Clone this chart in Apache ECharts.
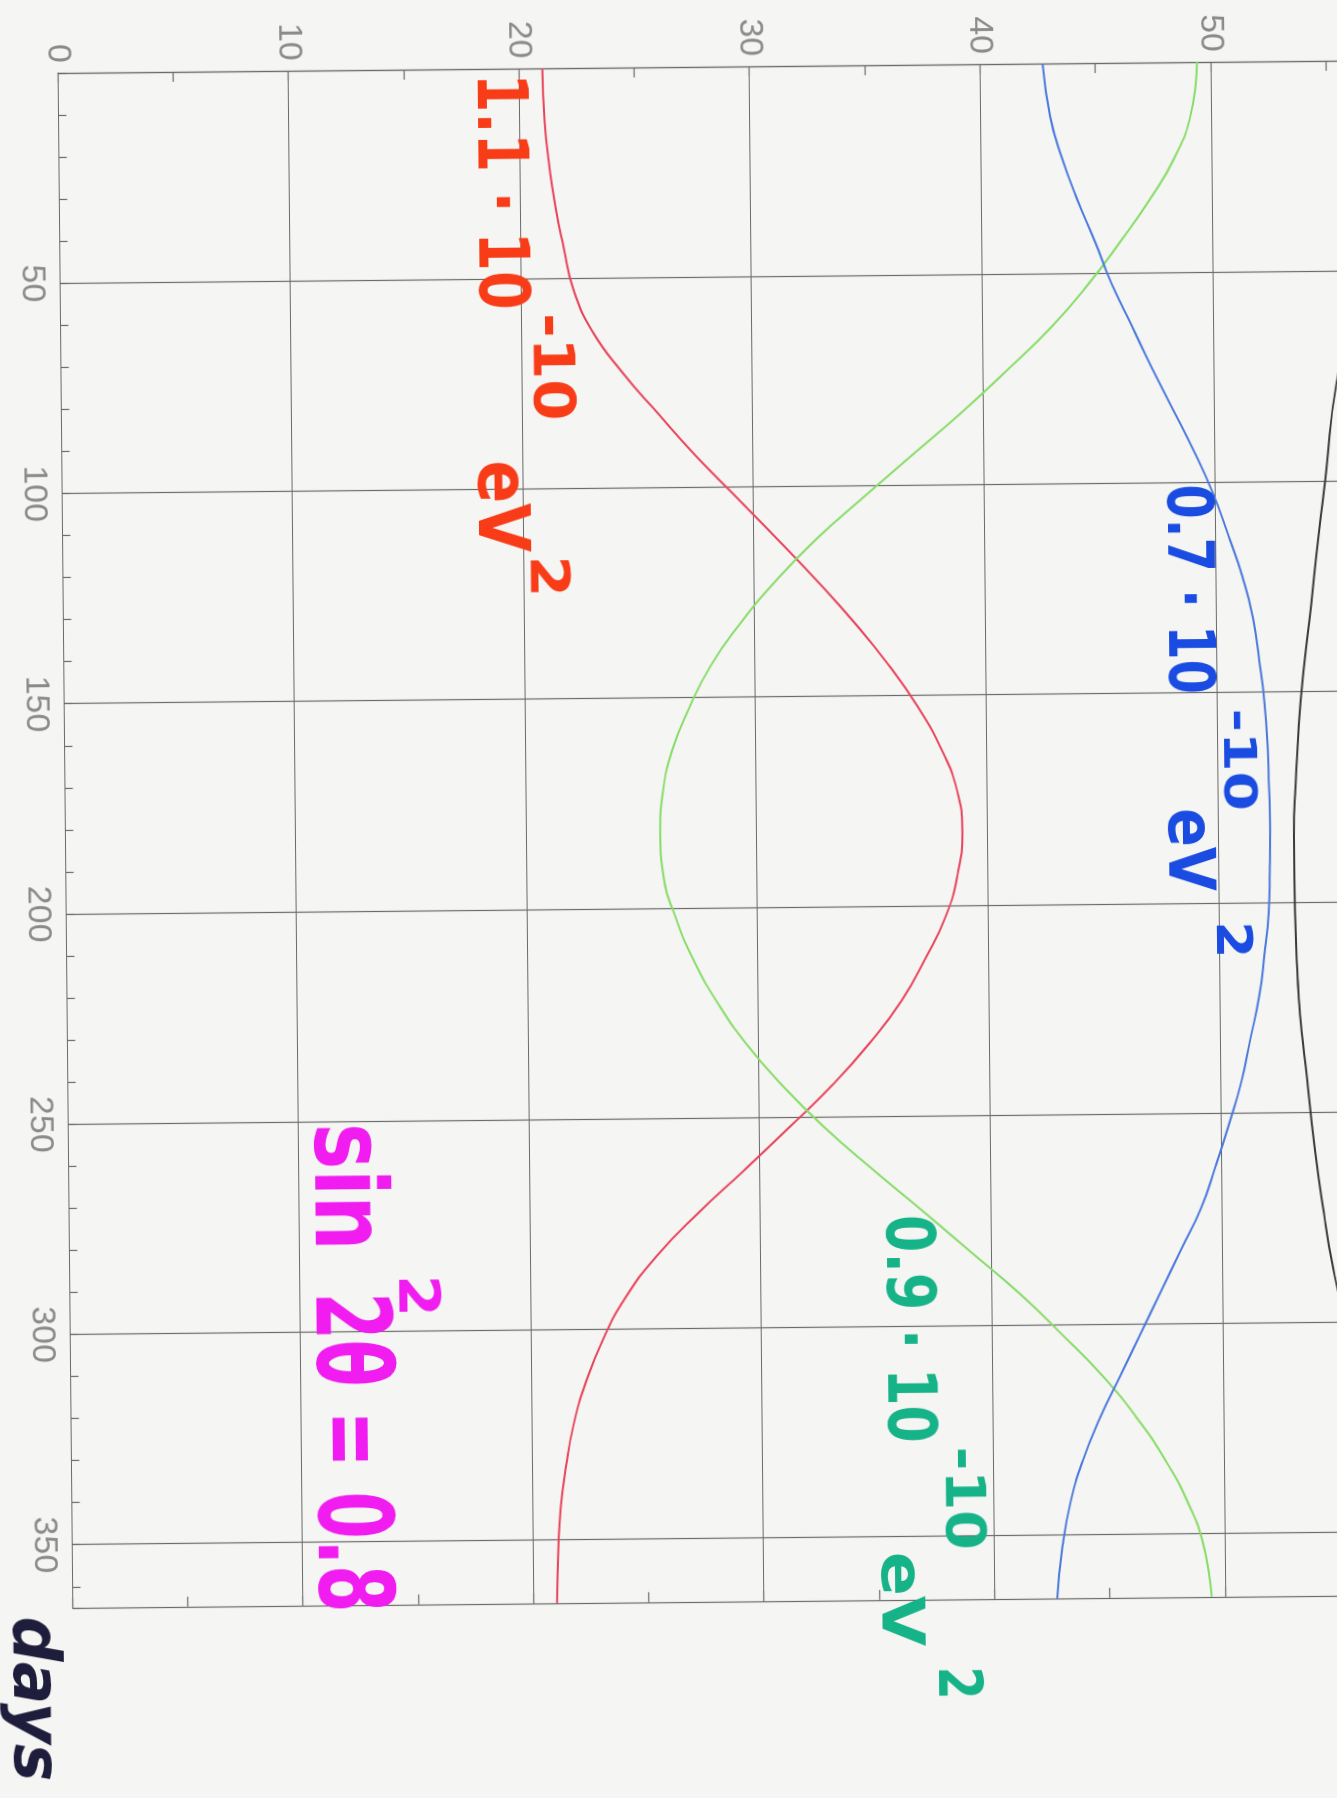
<!DOCTYPE html>
<html>
<head>
<meta charset="utf-8">
<script src="https://cdn.jsdelivr.net/npm/echarts@6/dist/echarts.min.js"></script>
<style>
  html, body { margin: 0; padding: 0; width: 1337px; height: 1798px; overflow: hidden; background: #f5f5f3; }
  /* the sheet is plotted in landscape and turned a quarter turn clockwise */
  #chart {
    position: absolute; left: 0; top: 0;
    width: 1900px; height: 1564px;
    transform-origin: 0 0;
    transform: translate(1500.38px, -60.85px) rotate(89.45deg);
  }
</style>
</head>
<body>
<div id="chart"></div>
<script>
// ---- data -------------------------------------------------------------
// day of the year (sampled symmetrically about mid-year)
const days = [0, 12.5, 22.5, 32.5, 42.5, 52.5, 62.5, 72.5, 82.5, 92.5, 102.5, 112.5, 122.5, 132.5, 142.5, 152.5, 162.5, 172.5,
              182.5, 192.5, 202.5, 212.5, 222.5, 232.5, 242.5, 252.5, 262.5, 272.5, 282.5, 292.5, 302.5, 312.5, 322.5, 332.5,
              342.5, 352.5, 365];
// dm2 = 1.1e-10 eV^2
const dm11 = [21.0, 21.08, 21.25, 21.5, 21.85, 22.25, 23.05, 24.35, 25.9, 27.5, 29.25, 31.0, 32.7, 34.3, 35.75, 37.0, 38.0, 38.68,
              38.9, 38.68, 38.15, 37.25, 36.2, 34.8, 33.15, 31.25, 29.3, 27.3, 25.5, 24.1, 23.1, 22.35, 21.8, 21.45,
              21.2, 21.08, 21.0];
// dm2 = 0.9e-10 eV^2
const dm09 = [49.4, 49.1, 48.4, 47.3, 46.0, 44.6, 43.0, 41.1, 39.1, 36.95, 34.8, 32.7, 30.9, 29.35, 28.05, 27.1, 26.35, 25.93,
              25.8, 25.93, 26.45, 27.2, 28.2, 29.45, 31.0, 32.8, 34.85, 37.0, 39.1, 41.2, 43.05, 44.8, 46.25, 47.45,
              48.4, 49.05, 49.4];
// dm2 = 0.7e-10 eV^2
const dm07 = [42.7, 43.0, 43.5, 44.15, 44.9, 45.6, 46.45, 47.3, 48.2, 49.1, 49.9, 50.55, 51.15, 51.6, 51.85, 52.05, 52.17, 52.22,
              52.25, 52.22, 52.15, 51.95, 51.7, 51.3, 50.9, 50.35, 49.75, 49.1, 48.2, 47.3, 46.4, 45.5, 44.6, 43.85,
              43.3, 42.95, 42.7];
// reference curve near the top of the scale
const refDays = [60, 77, 97, 126, 163, 194, 209, 247, 277, 290, 305];
const refVals = [56.1, 55.3, 54.84, 54.19, 53.47, 53.28, 53.32, 53.83, 54.49, 54.9, 55.5];

// axis ranges and tick steps
const dayRange = [0, 365];
const dayLabelStep = 50;
const dayTickStep = 10;
const valueRange = [0, 60];
const valueLabelStep = 10;
const valueTickStep = 5;

// ---- chart ------------------------------------------------------------
const chart = echarts.init(document.getElementById('chart'), null, { renderer: 'canvas' });

const pairs = (xs, ys) => xs.map((x, i) => [x, ys[i]]);
const labelFont = { fontFamily: 'Liberation Sans', fontSize: 34, color: '#8a8a8a' };
const ink = '#6a6a6a';
const clear = 'rgba(0,0,0,0)';
const frameLine = { color: ink, width: 1.2 };

// grid lines only on every labelled tick: colours cycle per tick
const cycle = n => [ink].concat(Array(n - 1).fill(clear));

function curve(name, xs, ys, color) {
  return {
    name, type: 'line', xAxisIndex: 0, yAxisIndex: 0,
    data: pairs(xs, ys), smooth: true, showSymbol: false, silent: true,
    lineStyle: { color, width: 2 }, emphasis: { disabled: true }, z: 5
  };
}

chart.setOption({
  animation: false,
  backgroundColor: 'transparent',
  grid: { left: 120, top: 60, width: 1534.8, height: 1383.6, containLabel: false, outerBoundsMode: 'none' },
  xAxis: [
    {
      type: 'value', min: dayRange[0], max: dayRange[1], interval: dayTickStep, position: 'bottom',
      axisLine: { show: true, lineStyle: frameLine },
      axisTick: { show: true, inside: true, length: 8, lineStyle: frameLine },
      axisLabel: Object.assign({
        margin: 11,
        formatter: v => (v > 0 && v % dayLabelStep === 0) ? String(v) : ''
      }, labelFont),
      splitLine: { show: true, lineStyle: { color: cycle(dayLabelStep / dayTickStep), width: 1.2 } }
    }
  ],
  yAxis: [
    {
      type: 'value', min: valueRange[0], max: valueRange[1], interval: valueTickStep, position: 'left',
      axisLine: { show: true, lineStyle: frameLine },
      axisTick: { show: true, inside: true, length: 10, lineStyle: frameLine },
      axisLabel: Object.assign({
        margin: 10,
        formatter: v => (v % valueLabelStep === 0) ? String(v) : ''
      }, labelFont),
      splitLine: { show: true, lineStyle: { color: cycle(valueLabelStep / valueTickStep), width: 1.2 } }
    },
    {
      type: 'value', min: valueRange[0], max: valueRange[1], interval: valueTickStep, position: 'right',
      axisLine: { show: true, lineStyle: frameLine },
      axisTick: { show: true, inside: true, length: 10, lineStyle: frameLine },
      axisLabel: { show: false },
      splitLine: { show: false }
    }
  ],
  series: [
    curve('1.1e-10', days, dm11, '#e8435a'),
    curve('0.9e-10', days, dm09, '#86dc66'),
    curve('0.7e-10', days, dm07, '#4a78dc'),
    curve('ref', refDays, refVals, '#3a3a3a')
  ]
});

// ---- handwritten notes ------------------------------------------------
// each piece: text, colour, start/end day, baseline value, font size
const notes = [
  { text: '1.1 · 10', color: '#f83c18', d0: 1.1,   d1: 57.3,  base: 17.95, size: 70 },
  { text: '-10',      color: '#f83c18', d0: 58.2,  d1: 83.8,  base: 20.3,  size: 57 },
  { text: 'eV',       color: '#f83c18', d0: 93.1,  d1: 115.0, base: 17.8,  size: 72 },
  { text: '2',        color: '#f83c18', d0: 115.9, d1: 125.8, base: 20.1,  size: 54 },

  { text: '0.7 · 10', color: '#1a4ce2', d0: 100.4, d1: 150.3, base: 47.7,  size: 64 },
  { text: '-10',      color: '#1a4ce2', d0: 153.8, d1: 178.2, base: 50.1,  size: 45 },
  { text: 'eV',       color: '#1a4ce2', d0: 177.4, d1: 197.1, base: 47.6,  size: 64 },
  { text: '2',        color: '#1a4ce2', d0: 204.4, d1: 213.2, base: 49.7,  size: 49 },

  { text: '0.9 · 10', color: '#17b388', d0: 273.5, d1: 327.7, base: 35.2,  size: 67 },
  { text: '-10',      color: '#17b388', d0: 328.7, d1: 353.3, base: 37.7,  size: 55 },
  { text: 'eV',       color: '#17b388', d0: 353.6, d1: 376.1, base: 34.9,  size: 59 },
  { text: '2',        color: '#17b388', d0: 381.0, d1: 388.9, base: 37.3,  size: 60 },

  { text: 'sin',      color: '#f01cf0', d0: 250.4, d1: 280.7, base: 10.3,  size: 100 },
  { text: '2',        color: '#f01cf0', d0: 286.6, d1: 296.6, base: 14.05, size: 57 },
  { text: '2θ = 0.8', color: '#f01cf0', d0: 290.6, d1: 366.8, base: 10.3,  size: 104 },

  { text: 'days',     color: '#1e1e3c', d0: 367.0, d1: 406.2, base: -2.84, size: 66, italic: true }
];

const measure = document.createElement('canvas').getContext('2d');
function toPx(d, v) {
  return chart.convertToPixel({ xAxisIndex: 0, yAxisIndex: 0 }, [d, v]);
}
const graphics = notes.map(n => {
  const fontStyle = n.italic ? 'italic' : 'normal';
  measure.font = `${fontStyle} bold ${n.size}px "DejaVu Sans"`;
  const w = measure.measureText(n.text).width;
  const p0 = toPx(n.d0, n.base);
  const p1 = toPx(n.d1, n.base);
  return {
    type: 'text', silent: true, z: 20,
    x: p0[0], y: p0[1] - 0.346 * n.size,
    scaleX: (p1[0] - p0[0]) / w,
    style: {
      text: n.text, fill: n.color,
      fontFamily: 'DejaVu Sans', fontWeight: 'bold', fontStyle,
      fontSize: n.size, align: 'left', verticalAlign: 'middle'
    }
  };
});
chart.setOption({ graphic: graphics });
</script>
</body>
</html>
